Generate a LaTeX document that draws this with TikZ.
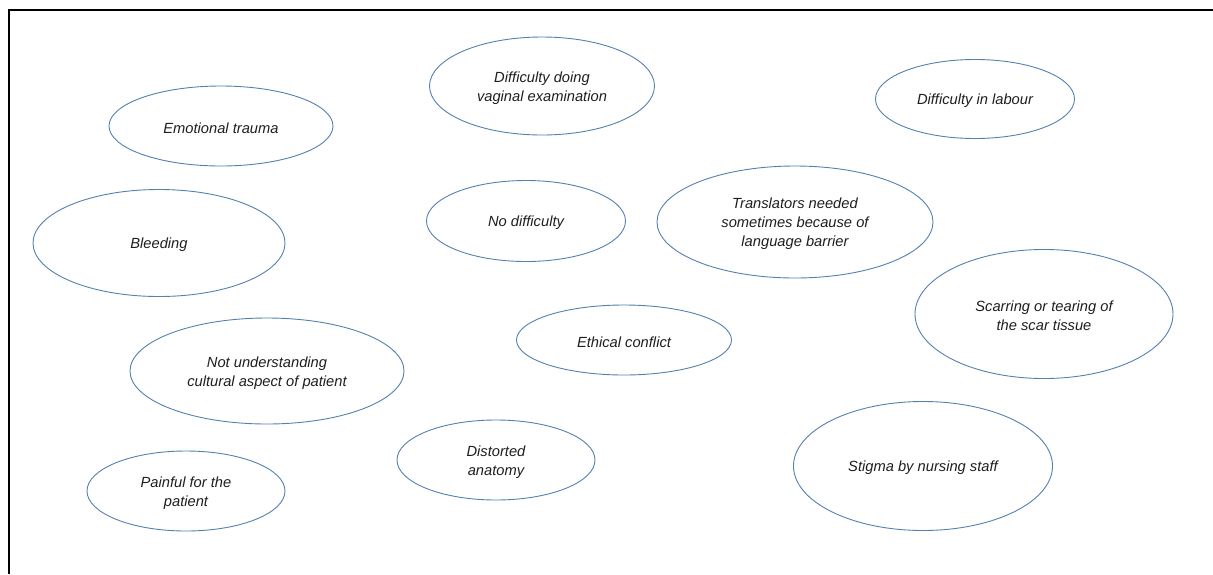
\documentclass[tikz,border=0pt]{standalone}
\usepackage{fontspec}
\setmainfont{Liberation Sans}
\usetikzlibrary{shapes.geometric}
\definecolor{ellblue}{RGB}{84,128,176}
\definecolor{txt}{RGB}{30,30,30}
\tikzset{
  bubble/.style={ellipse, draw=ellblue, line width=0.9pt, inner sep=0pt},
  bubtext/.style={inner sep=0pt, align=center, text=txt, font=\fontsize{14.7}{19}\selectfont\itshape},
}
\newcommand{\bub}[6]{\node[bubble, minimum width=#4pt, minimum height=#5pt] (#1) at (#2,#3) {};
  \node[bubtext] (#1t) at ([yshift=-2pt]#1.center) {#6};}
\begin{document}
\begin{tikzpicture}[x=1pt,y=-1pt]
\useasboundingbox (0,0) rectangle (1213,574);
\coordinate (tl) at (9,10);
\coordinate (tr) at (1213,10);
\coordinate (bl) at (9,574);
\draw[line width=1.2pt] (tr) -- (tl) -- (bl);
\bub{emo}{221}{126}{224}{80}{Emotional trauma}
\bub{vag}{542}{86}{225}{98}{Difficulty doing\\vaginal examination}
\bub{lab}{975}{99}{199}{79}{Difficulty in labour}
\bub{ble}{159}{243}{252}{107}{Bleeding}
\bub{nod}{526}{221}{199}{81}{No difficulty}
\bub{tra}{795}{222}{276}{112}{Translators needed\\sometimes because of\\language barrier}
\bub{sca}{1044}{314}{258}{129}{Scarring or tearing of\\the scar tissue}
\bub{eth}{624}{340}{215}{70}{Ethical conflict}
\bub{cul}{267}{371}{274}{106}{Not understanding\\cultural aspect of patient}
\bub{dis}{496}{460}{198}{80}{Distorted\\anatomy}
\bub{pai}{186}{491}{198}{80}{Painful for the\\patient}
\bub{sti}{923}{466}{259}{129}{Stigma by nursing staff}
\end{tikzpicture}
\end{document}
